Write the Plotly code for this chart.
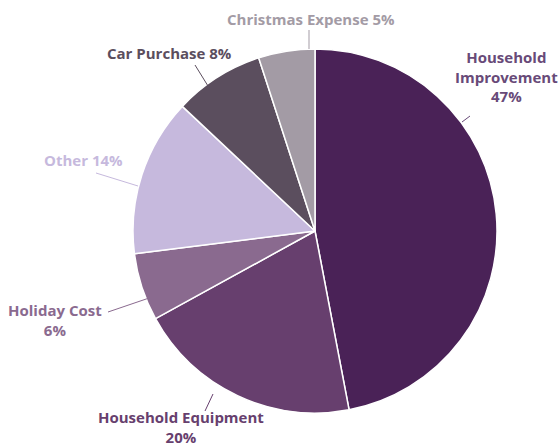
import plotly.graph_objects as go

# Share of spending by purpose
categories = ["Household Improvement", "Household Equipment", "Holiday Cost",
              "Other", "Car Purchase", "Christmas Expense"]
shares = [47, 20, 6, 14, 8, 5]
slice_colors = ["#4a2257", "#673f6e", "#8a6a8f", "#c6b9dd", "#5b4e5e", "#a39ba5"]
label_colors = ["#684a78", "#673f6e", "#8a6a8f", "#c6b9dd", "#5b4e5e", "#a39ba5"]
label_texts = ["Household<br>Improvement<br>47%", "Household Equipment<br>20%",
               "Holiday Cost<br>6%", "Other 14%", "Car Purchase 8%",
               "Christmas Expense 5%"]

W, H = 558, 446
ML, MR, MT, MB = 132, 60, 49, 33
PW, PH = W - ML - MR, H - MT - MB

def px(x):
    return (x - ML) / PW

def py(y):
    return (H - MB - y) / PH

# label placement (pixel centres) and leader lines (pixel endpoints)
label_pos = [(507, 77), (181, 427), (55, 320), (83, 160), (169, 53), (311, 19)]
leaders = [((462, 122), (470, 116)), ((205, 411), (213, 394)),
           ((108, 312), (155, 296)), ((96, 173), (138, 186)),
           ((195, 65), (208, 86)), ((309, 30), (309, 49))]

fig = go.Figure(go.Pie(
    labels=categories,
    values=shares,
    sort=False,
    direction="clockwise",
    rotation=0,
    marker=dict(colors=slice_colors, line=dict(color="white", width=1.5)),
    textinfo="none",
    hoverinfo="label+percent",
    showlegend=False,
))

annotations = []
shapes = []
for text, color, (lx, ly), ((x0, y0), (x1, y1)) in zip(label_texts, label_colors, label_pos, leaders):
    annotations.append(dict(
        x=px(lx), y=py(ly), xref="paper", yref="paper",
        text=f"<b>{text}</b>", showarrow=False, align="center",
        xanchor="center", yanchor="middle",
        font=dict(family="Open Sans", size=15, color=color),
    ))
    shapes.append(dict(
        type="line", xref="paper", yref="paper",
        x0=px(x0), y0=py(y0), x1=px(x1), y1=py(y1),
        line=dict(color=color, width=1),
    ))

fig.update_layout(
    width=W, height=H,
    margin=dict(l=ML, r=MR, t=MT, b=MB),
    paper_bgcolor="white",
    plot_bgcolor="white",
    annotations=annotations,
    shapes=shapes,
)

fig.write_html("out.html")
